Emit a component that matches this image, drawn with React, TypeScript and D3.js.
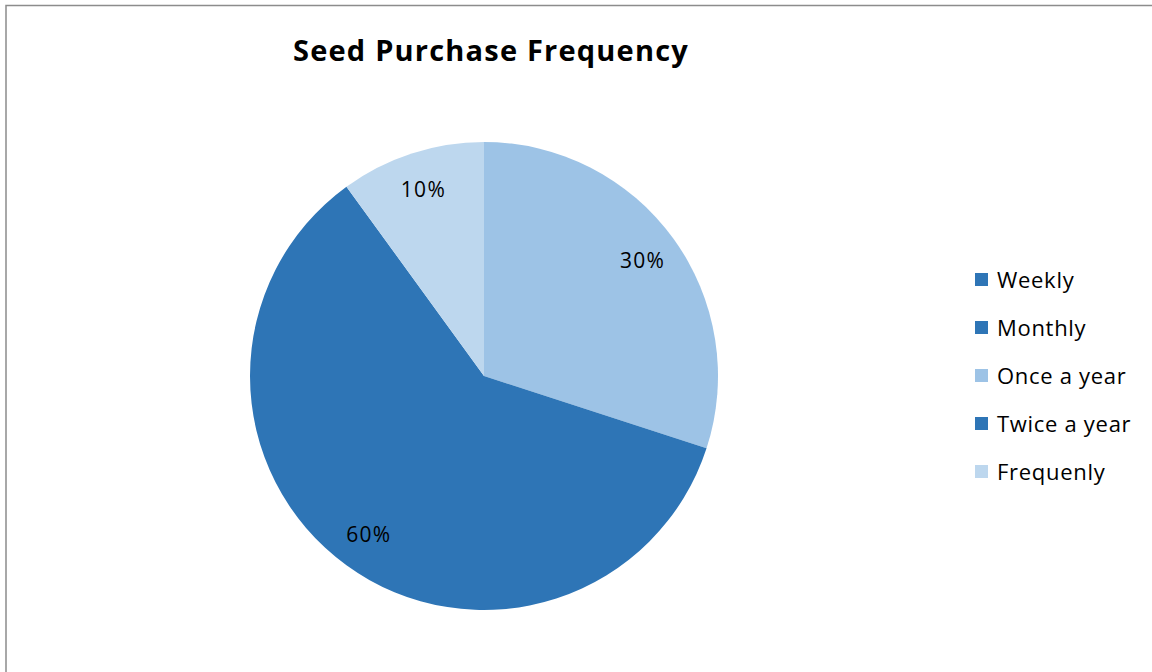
import React from "react";
import * as d3 from "d3";

const categories = ["Weekly", "Monthly", "Once a year", "Twice a year", "Frequenly"];
const values = [0, 0, 30, 60, 10];
const colors = ["#2E75B6", "#2E75B6", "#9DC3E6", "#2E75B6", "#BDD7EE"];
const title = "Seed Purchase Frequency";

const W = 1152;
const H = 672;
const FONT = "'Open Sans', sans-serif";

export default function App() {
  const cx = 484;
  const cy = 376;
  const r = 234;
  const pie = d3.pie<number>().sort(null).value((d) => d);
  const arcs = pie(values);
  const arc = d3.arc<d3.PieArcDatum<number>>().innerRadius(0).outerRadius(r);
  const labelArc = d3.arc<d3.PieArcDatum<number>>().innerRadius(196 * 2 - r).outerRadius(r);
  const total = d3.sum(values);
  const legendY = d3.scaleLinear().domain([0, categories.length - 1]).range([280, 472]);

  return (
    <svg
      width={W}
      height={H}
      style={{ position: "fixed", left: 0, top: 0, background: "#fff" }}
    >
      <rect x={0} y={0} width={W} height={H} fill="#fff" />
      <rect x={6} y={5.5} width={W + 10} height={H + 10} fill="none" stroke="#8c8c8c" strokeWidth={1.5} />
      <text x={491} y={61} textAnchor="middle" fontFamily={FONT} fontWeight="bold" fontSize={29} letterSpacing={1.2} fill="#000">
        {title}
      </text>
      <g transform={`translate(${cx},${cy})`}>
        {arcs.map((a, i) =>
          a.value > 0 ? <path key={i} d={arc(a) || ""} fill={colors[i]} /> : null
        )}
        {arcs.map((a, i) => {
          if (a.value <= 0) return null;
          const [lx, ly] = labelArc.centroid(a);
          return (
            <text
              key={"l" + i}
              x={lx}
              y={ly}
              dy="0.35em"
              textAnchor="middle"
              fontFamily={FONT}
              fontSize={21}
              letterSpacing={1.3}
              fill="#000"
            >
              {Math.round((a.value / total) * 100) + "%"}
            </text>
          );
        })}
      </g>
      <g>
        {categories.map((c, i) => (
          <g key={c} transform={`translate(975,${legendY(i)})`}>
            <rect x={0} y={-7} width={13} height={13} fill={colors[i]} />
            <text x={22} y={0} dy="0.35em" fontFamily={FONT} fontSize={22} letterSpacing={0.7} fill="#000">
              {c}
            </text>
          </g>
        ))}
      </g>
    </svg>
  );
}
